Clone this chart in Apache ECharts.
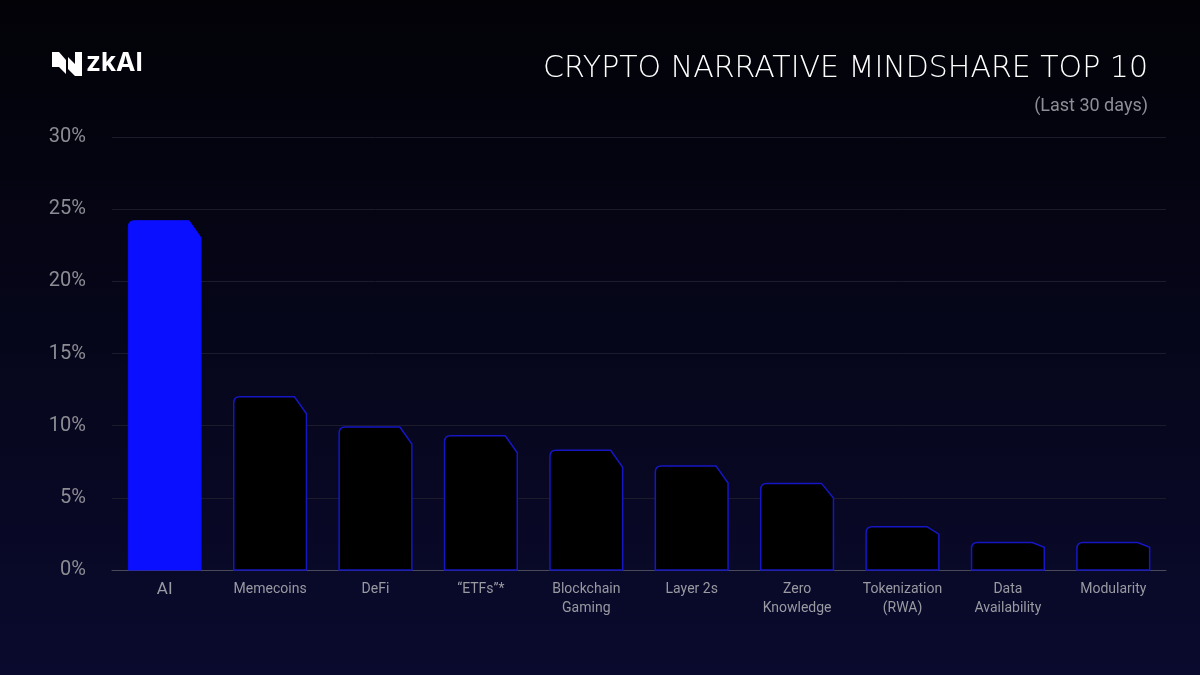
<!DOCTYPE html>
<html><head><meta charset="utf-8">
<script src="https://cdn.jsdelivr.net/npm/echarts@6/dist/echarts.min.js"></script>
<style>html,body{margin:0;padding:0;background:#000;}#c{width:1200px;height:675px;}</style>
</head><body><div id="c"></div>
<script>
const categories = ['AI','Memecoins','DeFi','\u201cETFs\u201d*','Blockchain\nGaming','Layer 2s','Zero\nKnowledge','Tokenization\n(RWA)','Data\nAvailability','Modularity'];
const values = [24.2, 12.0, 9.9, 9.3, 8.3, 7.2, 6.0, 3.0, 1.9, 1.9];
const yTicks = [0, 5, 10, 15, 20, 25, 30];
const titleText = 'CRYPTO NARRATIVE MINDSHARE TOP 10';
const subtitleText = '(Last 30 days)';

const chart = echarts.init(document.getElementById('c'), null, {renderer:'canvas'});
const FONT = 'Roboto, "Noto Sans", sans-serif';

function renderBar(params, api){
  const idx = api.value(0), v = api.value(1);
  const base = api.coord([idx, 0]);
  const top = api.coord([idx, v]);
  const bw = api.size([1,0])[0]*0.69;
  const x0 = base[0]-bw/2, x1 = base[0]+bw/2, y0 = base[1], y1 = top[1];
  const h = y0 - y1;
  const r = Math.min(6, h/3);
  const cw = 12, ch = Math.min(17, h*0.17);
  const d = `M${x0} ${y0} L${x0} ${y1+r} Q${x0} ${y1} ${x0+r} ${y1} L${x1-cw} ${y1} L${x1} ${y1+ch} L${x1} ${y0} Z`;
  const isAI = idx === 0;
  return {
    type:'path',
    shape:{pathData:d},
    style:{fill: isAI ? '#0b0fff' : '#000000', stroke: isAI ? '#0b0fff' : '#1616c4', lineWidth: isAI ? 1 : 1.5}
  };
}

chart.setOption({
  backgroundColor: {type:'linear', x:0, y:0, x2:0, y2:1, colorStops:[{offset:0,color:'#020207'},{offset:1,color:'#0a0a2e'}]},
  animation:false,
  grid:{left:112, right:34, top:137, bottom:105},
  xAxis:{
    type:'category', data:categories,
    axisLine:{show:true, lineStyle:{color:'#4a4a5a', width:1}},
    axisTick:{show:false},
    axisLabel:{
      interval:0, color:'#9a9aa2', fontSize:14, fontFamily:FONT, margin:10, lineHeight:19,
      formatter:(v,i)=> i===0 ? '{ai|'+v+'}' : v,
      rich:{ai:{fontSize:17, color:'#9a9aa2', fontFamily:FONT}}
    }
  },
  yAxis:{
    type:'value', min:0, max:30, interval:5,
    axisLine:{show:false}, axisTick:{show:false},
    splitLine:{lineStyle:{color:'#1b1b2b', width:1}},
    axisLabel:{color:'#8c8c94', fontSize:20, fontFamily:FONT, margin:26, formatter:v=>v+'%'}
  },
  series:[{
    type:'custom',
    renderItem: renderBar,
    data: values.map((v,i)=>[i,v]),
    encode:{x:0, y:1}
  }],
  graphic:[
    {type:'text', right:52, top:54, style:{text:titleText, fill:'#ffffff', fontSize:30, fontWeight:300, fontFamily:'"DejaVu Sans", sans-serif'}},
    {type:'text', right:52, top:97, style:{text:subtitleText, fill:'#8e8e96', fontSize:18, fontFamily:FONT}},
    {type:'polygon', shape:{points:[[52,52],[59,52],[66,60],[66,74],[59,67],[52,67]]}, style:{fill:'#ffffff'}},
    {type:'polygon', shape:{points:[[68,57],[75,64],[75,52],[82,52],[82,76],[75,76],[68,69]]}, style:{fill:'#ffffff'}},
    {type:'text', left:86, top:50, style:{text:'zkAI', fill:'#ffffff', fontSize:26, fontWeight:'bold', fontFamily:'Inter, Roboto, sans-serif'}}
  ]
});
</script>
</body></html>
